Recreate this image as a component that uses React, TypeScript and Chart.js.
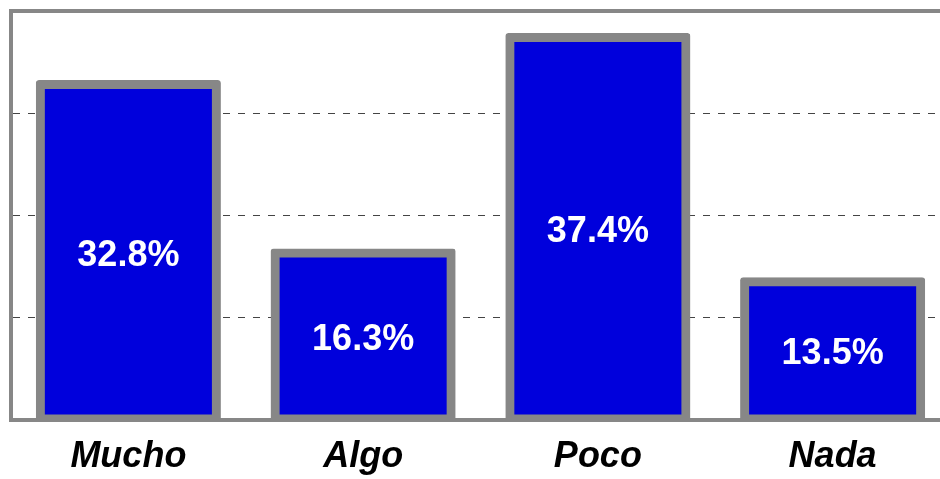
import React, { useEffect, useRef } from "react";
import { Chart, registerables } from "chart.js";

Chart.register(...registerables);

const categories = ["Mucho", "Algo", "Poco", "Nada"];
const values = [32.8, 16.3, 37.4, 13.5];
const yMax = 40;
const yStep = 10;

const GRAY = "#878787";
const BLUE = "#0000DC";

export default function App() {
  const ref = useRef<HTMLCanvasElement | null>(null);

  useEffect(() => {
    if (!ref.current) return;
    const frame = {
      id: "frame",
      afterDraw(chart: any) {
        const { ctx, chartArea } = chart;
        ctx.save();
        ctx.strokeStyle = GRAY;
        ctx.lineWidth = 4;
        ctx.beginPath();
        ctx.moveTo(chartArea.left - 2, chartArea.top);
        ctx.lineTo(chartArea.right + 20, chartArea.top);
        ctx.stroke();
        ctx.restore();
      },
    };
    const labels = {
      id: "barLabels",
      afterDatasetsDraw(chart: any) {
        const { ctx } = chart;
        const meta = chart.getDatasetMeta(0);
        ctx.save();
        ctx.fillStyle = "#ffffff";
        ctx.font = "bold 36px 'Liberation Sans', Arial, sans-serif";
        ctx.textAlign = "center";
        ctx.textBaseline = "middle";
        meta.data.forEach((el: any, i: number) => {
          const y = (el.y + el.base) / 2 + 4;
          ctx.fillText(values[i].toFixed(1) + "%", el.x, y);
        });
        ctx.restore();
      },
    };
    const chart = new Chart(ref.current, {
      type: "bar",
      data: {
        labels: categories,
        datasets: [
          {
            data: values,
            backgroundColor: BLUE,
            borderColor: GRAY,
            borderWidth: 9,
            borderRadius: 3,
            borderSkipped: false,
            inflateAmount: 4.5,
            barPercentage: 0.75,
            categoryPercentage: 1,
          } as any,
        ],
      },
      options: {
        animation: false,
        responsive: true,
        maintainAspectRatio: false,
        layout: { padding: { left: 11, right: 8, top: 11, bottom: 0 } },
        plugins: { legend: { display: false }, tooltip: { enabled: false } },
        scales: {
          x: {
            afterFit: (s: any) => {
              s.height = 59.5;
            },
            grid: { display: false, drawTicks: false },
            border: { display: true, color: GRAY, width: 4 },
            ticks: {
              color: "#000000",
              padding: 16,
              font: { family: "'Liberation Sans', Arial, sans-serif", size: 36, weight: "bold", style: "italic" },
            },
          },
          y: {
            min: 0,
            max: yMax,
            afterFit: (s: any) => {
              s.width = 0;
            },
            ticks: { display: false, stepSize: yStep },
            grid: {
              drawTicks: false,
              color: (c: any) =>
                c.tick && (c.tick.value === 0 || c.tick.value === yMax) ? "rgba(0,0,0,0)" : "#444444",
              lineWidth: 1,
            },
            border: { display: true, color: GRAY, width: 4, dash: [7, 8] },
          },
        },
      },
      plugins: [frame, labels],
    });
    return () => chart.destroy();
  }, []);

  return (
    <div style={{ position: "fixed", left: 0, top: 0, width: 940, height: 479, overflow: "hidden", background: "#fff" }}>
      <div style={{ position: "relative", width: 958, height: 479 }}>
        <canvas ref={ref} />
      </div>
    </div>
  );
}
